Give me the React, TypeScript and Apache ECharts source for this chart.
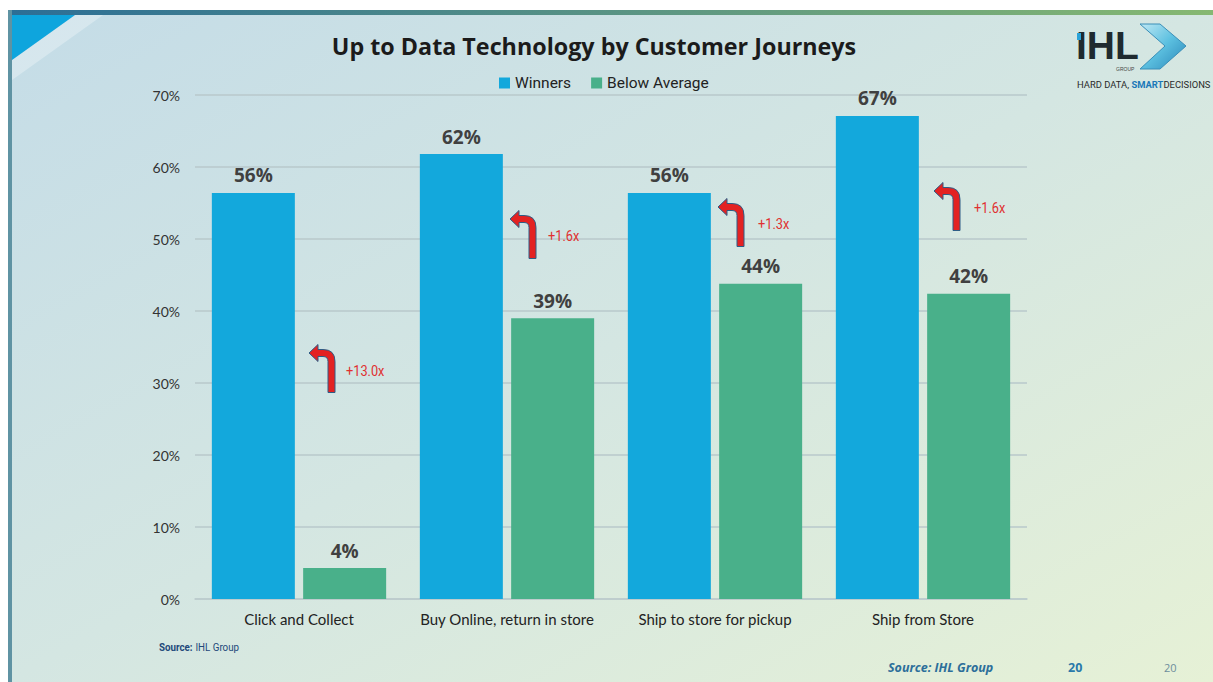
import React, { useEffect, useRef } from "react";
import * as echarts from "echarts";

const categories = ["Click and Collect", "Buy Online, return in store", "Ship to store for pickup", "Ship from Store"];
const winners = [56.4, 61.8, 56.4, 67.1];
const belowAverage = [4.3, 39.0, 43.8, 42.4];
const multipliers = ["+13.0x", "+1.6x", "+1.3x", "+1.6x"];
const yTicks = { min: 0, max: 70, interval: 10 };

const ARROW_D =
  "M 0 10.5 L 9 2 L 9 7 L 14 7 Q 26 7 26 19 L 26 50 L 19 50 L 19 19 Q 19 14 14 14 L 9 14 L 9 19 Z";

const NARROW = "Roboto, sans-serif";
const UI = "Lato, 'Open Sans', sans-serif";

export default function App() {
  const ref = useRef<HTMLDivElement>(null);
  useEffect(() => {
    if (!ref.current) return;
    try {
      echarts.graphic.registerShape("curvedArrow", echarts.graphic.extendPath(ARROW_D, {}) as any);
    } catch (e) {}
    const chart = echarts.init(ref.current, undefined, { renderer: "svg" });
    const arrowPos = [
      [309, 353, 346, 371],
      [510, 219, 548, 236],
      [718, 207, 758, 224],
      [934, 191, 974, 208],
    ];
    const graphics: any[] = [
      {
        type: "rect",
        z: -10,
        shape: { x: 8, y: 10, width: 1205, height: 672 },
        style: {
          fill: new echarts.graphic.LinearGradient(0, 0, 1, 1, [
            { offset: 0, color: "#c4dce7" },
            { offset: 0.5, color: "#d4e6e2" },
            { offset: 1, color: "#e6f1d6" },
          ]),
        },
        silent: true,
      },
      {
        type: "rect",
        z: -9,
        shape: { x: 8, y: 10, width: 1205, height: 5 },
        style: {
          fill: new echarts.graphic.LinearGradient(0, 0, 1, 0, [
            { offset: 0, color: "#2c6e96" },
            { offset: 1, color: "#86b872" },
          ]),
        },
        silent: true,
      },
      {
        type: "rect",
        z: -9,
        shape: { x: 8, y: 10, width: 4, height: 672 },
        style: { fill: "#5f93a3" },
        silent: true,
      },
      {
        type: "polygon",
        z: -8,
        shape: { points: [[75, 15], [103, 15], [12, 80], [12, 60]] },
        style: { fill: "rgba(255,255,255,0.3)" },
        silent: true,
      },
      {
        type: "polygon",
        z: -8,
        shape: { points: [[12, 15], [75, 15], [12, 60]] },
        style: { fill: "#0ea5dd" },
        silent: true,
      },
      // logo
      {
        type: "text",
        x: 1076,
        y: 26,
        style: { text: "IHL", font: "bold 39px 'Liberation Sans', Arial, sans-serif", fill: "#1f2a2f" },
      },
      {
        type: "rect",
        shape: { x: 1077, y: 33, width: 4, height: 7 },
        style: { fill: "#2aa3d8" },
      },
      {
        type: "polygon",
        shape: { points: [[1140, 24], [1160, 24], [1186, 46], [1160, 69], [1140, 69], [1165, 46]] },
        style: {
          fill: new echarts.graphic.LinearGradient(0, 0, 1, 1, [
            { offset: 0, color: "#bfe8f4" },
            { offset: 0.5, color: "#5cc0e0" },
            { offset: 1, color: "#2a86b8" },
          ]),
          stroke: "#3a8fb8",
          lineWidth: 1,
        },
      },
      {
        type: "text",
        x: 1116,
        y: 66,
        style: { text: "GROUP", font: "5px sans-serif", fill: "#444" },
      },
      {
        type: "text",
        x: 1077,
        y: 79,
        scaleX: 0.99,
        style: {
          text: "{n|HARD DATA, }{b|SMART}{n|DECISIONS}",
          rich: {
            n: { font: "9.5px Roboto, sans-serif", fill: "#2a2a2a" },
            b: { font: "bold 9.5px Roboto, sans-serif", fill: "#1a78b8" },
          },
        },
      },
      // footer texts
      {
        type: "text",
        x: 159,
        y: 641,
        scaleX: 0.85,
        style: {
          text: "{b|Source:} {n|IHL Group}",
          rich: {
            b: { font: "bold 11.5px " + NARROW, fill: "#23497a" },
            n: { font: "11.5px " + NARROW, fill: "#23497a" },
          },
        },
      },
      {
        type: "text",
        x: 888,
        y: 661,
        style: { text: "Source: IHL Group", font: "italic bold 12.5px 'Open Sans', sans-serif", fill: "#2c6e9a" },
      },
      {
        type: "text",
        x: 1068,
        y: 661,
        style: { text: "20", font: "bold 12.5px 'Open Sans', sans-serif", fill: "#2a79aa" },
      },
      {
        type: "text",
        x: 1164,
        y: 662,
        style: { text: "20", font: "11px 'Open Sans', sans-serif", fill: "#6d8e9c" },
      },
    ];
    arrowPos.forEach((p, i) => {
      graphics.push({
        type: "curvedArrow",
        x: p[0],
        y: p[1] - 10.5,
        z: 20,
        style: { fill: "#e32222", stroke: "#2e5d86", lineWidth: 1 },
      });
      graphics.push({
        type: "text",
        x: p[2],
        y: p[3],
        z: 20,
        scaleX: 0.88,
        style: {
          text: multipliers[i],
          font: "14.5px " + NARROW,
          fill: "#e03030",
          verticalAlign: "middle",
        },
      });
    });

    const labelStyle = {
      show: true,
      position: "top",
      distance: 8,
      formatter: (p: any) => Math.round(p.value) + "%",
      fontSize: 19,
      fontWeight: "bold",
      color: "#404040",
      fontFamily: "'Open Sans', sans-serif",
    };

    const option: any = {
      animation: false,
      backgroundColor: "transparent",
      title: {
        text: "Up to Data Technology by Customer Journeys",
        left: 589,
        textAlign: "center",
        top: 29,
        textStyle: { fontSize: 23.3, fontWeight: "bold", color: "#1b1b1b", fontFamily: "'Open Sans', sans-serif" },
      },
      legend: {
        left: 494,
        top: 70,
        itemWidth: 11,
        itemHeight: 11,
        itemGap: 20,
        icon: "rect",
        textStyle: { fontSize: 15.5, color: "#222", fontFamily: NARROW },
        data: ["Winners", "Below Average"],
      },
      grid: { left: 195, right: 186, top: 95, bottom: 83, containLabel: false },
      xAxis: {
        type: "category",
        data: categories,
        axisLine: { show: true, lineStyle: { color: "#bccbcd", width: 1.5 } },
        axisTick: { show: false },
        axisLabel: { interval: 0, fontSize: 15, color: "#222", margin: 12, fontFamily: UI },
      },
      yAxis: {
        type: "value",
        min: yTicks.min,
        max: yTicks.max,
        interval: yTicks.interval,
        axisLine: { show: false },
        axisTick: { show: false },
        axisLabel: { formatter: "{value}%", fontSize: 14, color: "#333", margin: 15, fontFamily: UI },
        splitLine: { lineStyle: { color: "#b9c8cb", width: 1.5 } },
      },
      series: [
        {
          name: "Winners",
          type: "bar",
          data: winners,
          barWidth: 83,
          barGap: "10%",
          itemStyle: { color: "#13a8dc" },
          label: labelStyle,
        },
        {
          name: "Below Average",
          type: "bar",
          data: belowAverage,
          barWidth: 83,
          barGap: "10%",
          itemStyle: { color: "#49b08a" },
          label: labelStyle,
        },
      ],
      graphic: graphics,
    };
    chart.setOption(option);
    return () => chart.dispose();
  }, []);
  return (
    <div
      ref={ref}
      style={{ position: "fixed", left: 0, top: 0, width: 1213, height: 682, background: "#ffffff" }}
    />
  );
}
